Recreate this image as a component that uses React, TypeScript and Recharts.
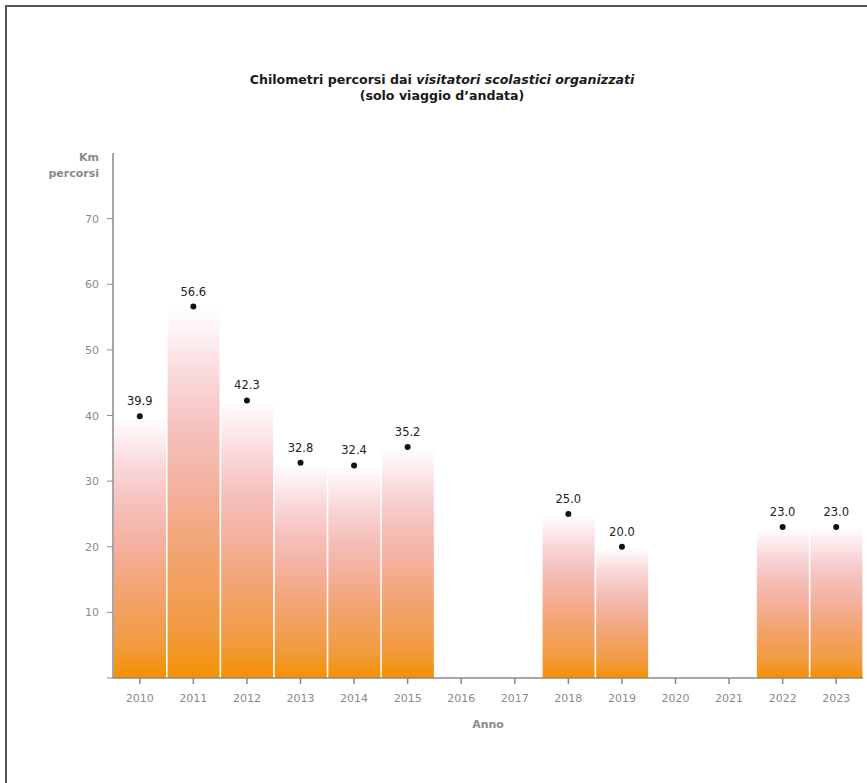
import React from "react";
import { Bar, ComposedChart, LabelList, Line, XAxis, YAxis } from "recharts";

const years = ["2010", "2011", "2012", "2013", "2014", "2015", "2016", "2017", "2018", "2019", "2020", "2021", "2022", "2023"];
const km: (number | null)[] = [39.9, 56.6, 42.3, 32.8, 32.4, 35.2, null, null, 25.0, 20.0, null, null, 23.0, 23.0];
const yTicks = [0, 10, 20, 30, 40, 50, 60, 70];

const data = years.map((year, i) => ({ year, km: km[i] }));

const axisGrey = "#8a8a8a";
const font = "'DejaVu Sans', Verdana, sans-serif";

function YTick({ x, y, payload }: any) {
  if (payload.value === 0) return null;
  return (
    <text x={x - 6} y={y + 4} textAnchor="end" fontSize={11} fill={axisGrey} fontFamily={font}>
      {payload.value}
    </text>
  );
}

function XTick({ x, y, payload }: any) {
  return (
    <text x={x} y={y + 16} textAnchor="middle" fontSize={11} fill={axisGrey} fontFamily={font}>
      {payload.value}
    </text>
  );
}

function ValueLabel({ x, y, value }: any) {
  if (value == null) return null;
  return (
    <text x={x} y={y - 11} textAnchor="middle" fontSize={11.5} fill="#222" fontFamily={font}>
      {Number(value).toFixed(1)}
    </text>
  );
}

export default function App() {
  return (
    <div style={{ position: "absolute", left: 0, top: 0, width: 867, height: 783, background: "#fff", overflow: "hidden", fontFamily: font }}>
      {/* outer frame */}
      <div style={{ position: "absolute", left: 5, top: 5, width: 900, height: 900, borderLeft: "2px solid #555", borderTop: "2px solid #555" }} />

      <div style={{ position: "absolute", left: 0, top: 72, width: 884, textAlign: "center", fontSize: 12.6, fontWeight: "bold", color: "#1a1a1a", lineHeight: "16px" }}>
        Chilometri percorsi dai <i>visitatori scolastici organizzati</i>
        <br />
        (solo viaggio d’andata)
      </div>

      <div style={{ position: "absolute", right: 867 - 99, top: 150, textAlign: "right", fontSize: 11, fontWeight: "bold", color: axisGrey, lineHeight: "16px" }}>
        Km
        <br />
        percorsi
      </div>

      <div style={{ position: "absolute", left: 113, width: 750, top: 718, textAlign: "center", fontSize: 11, fontWeight: "bold", color: axisGrey }}>
        Anno
      </div>

      <div style={{ position: "absolute", left: 0, top: 0 }}>
        <ComposedChart
          width={867}
          height={783}
          data={data}
          margin={{ top: 153, right: 4, bottom: 0, left: 0 }}
          barCategoryGap={1}
        >
          <defs>
            <linearGradient id="barFade" x1="0" y1="1" x2="0" y2="0">
              <stop offset="0" stopColor="#F39100" />
              <stop offset="0.12" stopColor="#F29A3E" />
              <stop offset="0.35" stopColor="#F2A574" />
              <stop offset="0.5" stopColor="#F4B09C" />
              <stop offset="0.65" stopColor="#F5BFB9" />
              <stop offset="0.8" stopColor="#F9D6D8" />
              <stop offset="0.92" stopColor="#FDEFF2" />
              <stop offset="1" stopColor="#FFFFFF" />
            </linearGradient>
          </defs>
          <XAxis
            dataKey="year"
            height={105}
            tick={<XTick />}
            tickLine={{ stroke: axisGrey, strokeWidth: 1.5 }}
            tickSize={6}
            axisLine={{ stroke: axisGrey, strokeWidth: 1.5 }}
            interval={0}
          />
          <YAxis
            width={113}
            domain={[0, 80]}
            ticks={yTicks}
            tick={<YTick />}
            tickSize={6}
            tickLine={{ stroke: axisGrey, strokeWidth: 1 }}
            axisLine={{ stroke: axisGrey, strokeWidth: 1.5 }}
          />
          <Bar dataKey="km" fill="url(#barFade)" isAnimationActive={false} />
          <Line
            dataKey="km"
            stroke="none"
            dot={{ r: 3, fill: "#111", stroke: "none" }}
            activeDot={false}
            connectNulls={false}
            isAnimationActive={false}
          >
            <LabelList dataKey="km" content={<ValueLabel />} />
          </Line>
        </ComposedChart>
      </div>
    </div>
  );
}
